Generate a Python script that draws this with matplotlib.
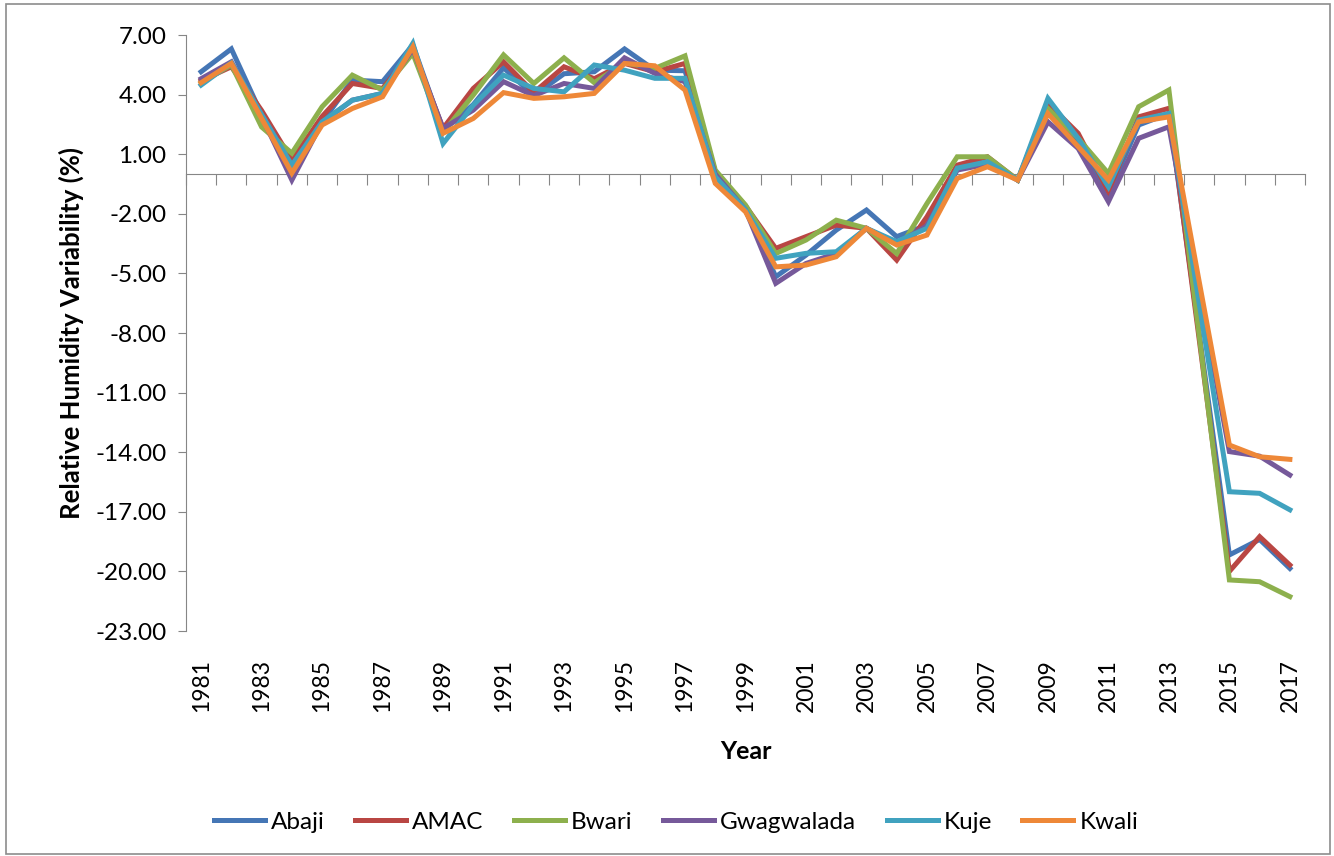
import numpy as np
import matplotlib
matplotlib.use("Agg")
import matplotlib.pyplot as plt
from matplotlib.patches import Rectangle

plt.rcParams['font.family'] = ['Lato', 'DejaVu Sans']

# %% data
years = list(range(1981, 2018))

abaji = [5.15, 6.3, 3.0, 0.2, 2.6, 4.73, 4.65, 6.5, 2.2, 3.5,
         5.35, 3.95, 5.05, 5.15, 6.3, 5.23, 5.2, 0.05, -1.7, -5.17,
         -4.08, -2.82, -1.81, -3.15, -2.57, 0.3, 0.6, -0.3, 3.3, 1.6,
         -1.0, 2.47, 3.05, -8.0, -19.17, -18.39, -19.85]
amac = [4.7, 5.4, 3.2, 0.7, 2.9, 4.56, 4.31, 6.23, 2.3, 4.31,
        5.65, 4.1, 5.4, 4.8, 5.57, 5.15, 5.57, 0.1, -1.6, -3.74,
        -3.15, -2.57, -2.73, -4.33, -2.15, 0.45, 0.87, -0.3, 3.56, 2.05,
        -0.89, 2.88, 3.31, -8.3, -20.0, -18.25, -19.68]
bwari = [4.6, 5.5, 2.37, 1.05, 3.39, 4.98, 4.23, 6.07, 2.1, 3.98,
         6.0, 4.56, 5.85, 4.6, 5.6, 5.32, 5.95, 0.2, -1.56, -4.0,
         -3.32, -2.32, -2.73, -4.0, -1.48, 0.87, 0.87, -0.3, 3.3, 1.8,
         0.03, 3.39, 4.23, -8.1, -20.43, -20.52, -21.27]
gwagwalada = [4.8, 5.65, 2.9, -0.3, 2.6, 3.72, 4.06, 6.3, 2.3, 3.22,
              4.65, 3.95, 4.56, 4.31, 5.85, 5.07, 4.65, 0.0, -1.8, -5.5,
              -4.5, -4.0, -2.73, -3.5, -2.6, 0.2, 0.5, -0.3, 2.63, 1.29,
              -1.39, 1.8, 2.38, -5.8, -13.97, -14.2, -15.15]
kuje = [4.48, 5.6, 3.0, 0.45, 2.63, 3.72, 4.06, 6.58, 1.54, 3.47,
        4.98, 4.31, 4.14, 5.49, 5.23, 4.82, 4.82, -0.13, -1.8, -4.24,
        -3.99, -3.91, -2.73, -3.4, -2.73, 0.3, 0.62, -0.3, 3.81, 1.8,
        -0.64, 2.72, 3.05, -6.5, -15.99, -16.07, -16.9]
kwali = [4.6, 5.57, 2.8, 0.05, 2.47, 3.3, 3.89, 6.4, 2.05, 2.8,
         4.1, 3.81, 3.89, 4.06, 5.57, 5.45, 4.23, -0.47, -1.9, -4.67,
         -4.58, -4.16, -2.73, -3.57, -3.07, -0.22, 0.37, -0.3, 3.05, 1.38,
         -0.3, 2.63, 2.88, -5.4, -13.64, -14.23, -14.36]

names = ["Abaji", "AMAC", "Bwari", "Gwagwalada", "Kuje", "Kwali"]
series = [abaji, amac, bwari, gwagwalada, kuje, kwali]
colors = ['#4576B5', '#B94643', '#8DB04D', '#76599A', '#40A2BF', '#EE8838']

y_ticks = [7, 4, 1, -2, -5, -8, -11, -14, -17, -20, -23]

# %% plot
fig = plt.figure(figsize=(13.34, 8.56), dpi=100)
ax = fig.add_axes([186/1334, 1 - 631/856, 1119/1334, 596/856])

x = np.arange(len(years))
for name, vals, c in zip(names, series, colors):
    ax.plot(x, vals, color=c, lw=3.6, label=name, solid_joinstyle='miter')

ax.set_xlim(-0.5, len(years) - 0.5)
ax.set_ylim(-23, 7)
ax.set_yticks(y_ticks)
ax.set_yticklabels([f"{v:.2f}" for v in y_ticks])
ax.tick_params(axis='y', length=6, color='#868686', labelsize=17.5, pad=8)

# year labels at the bottom, every other year
ax.set_xticks(x[::2])
ax.set_xticklabels([str(y) for y in years[::2]], rotation=90)
ax.tick_params(axis='x', length=0, labelsize=16.5, pad=20)

for s in ['top', 'right', 'bottom']:
    ax.spines[s].set_visible(False)
ax.spines['left'].set_color('#868686')

# category axis crossing at zero (axes fraction of y=0), ticks pointing down
sec = ax.secondary_xaxis(23 / 30)
sec.set_xticks(np.arange(len(years) + 1) - 0.5)
sec.set_xticklabels([])
sec.tick_params(axis='x', length=8, color='#868686', direction='in')
for sp in sec.spines.values():
    sp.set_color('#868686')

ax.set_ylabel("Relative Humidity Variability (%)", fontsize=18.5, fontweight='bold', labelpad=8)
ax.set_xlabel("Year", fontsize=18, fontweight='bold', labelpad=20)

fig.legend(loc='center', bbox_to_anchor=(676/1334, 1 - 822/856), ncol=6, frameon=False,
           fontsize=17.5, handlelength=2.1, handletextpad=0.25, columnspacing=1.25)

fig.patches.append(Rectangle((6/1334, 0.002), 1 - 10/1334, 1 - 6/856, transform=fig.transFigure,
                             fill=False, edgecolor='#8c8c8c', lw=1.2))

fig.savefig("out.png", dpi=100)
